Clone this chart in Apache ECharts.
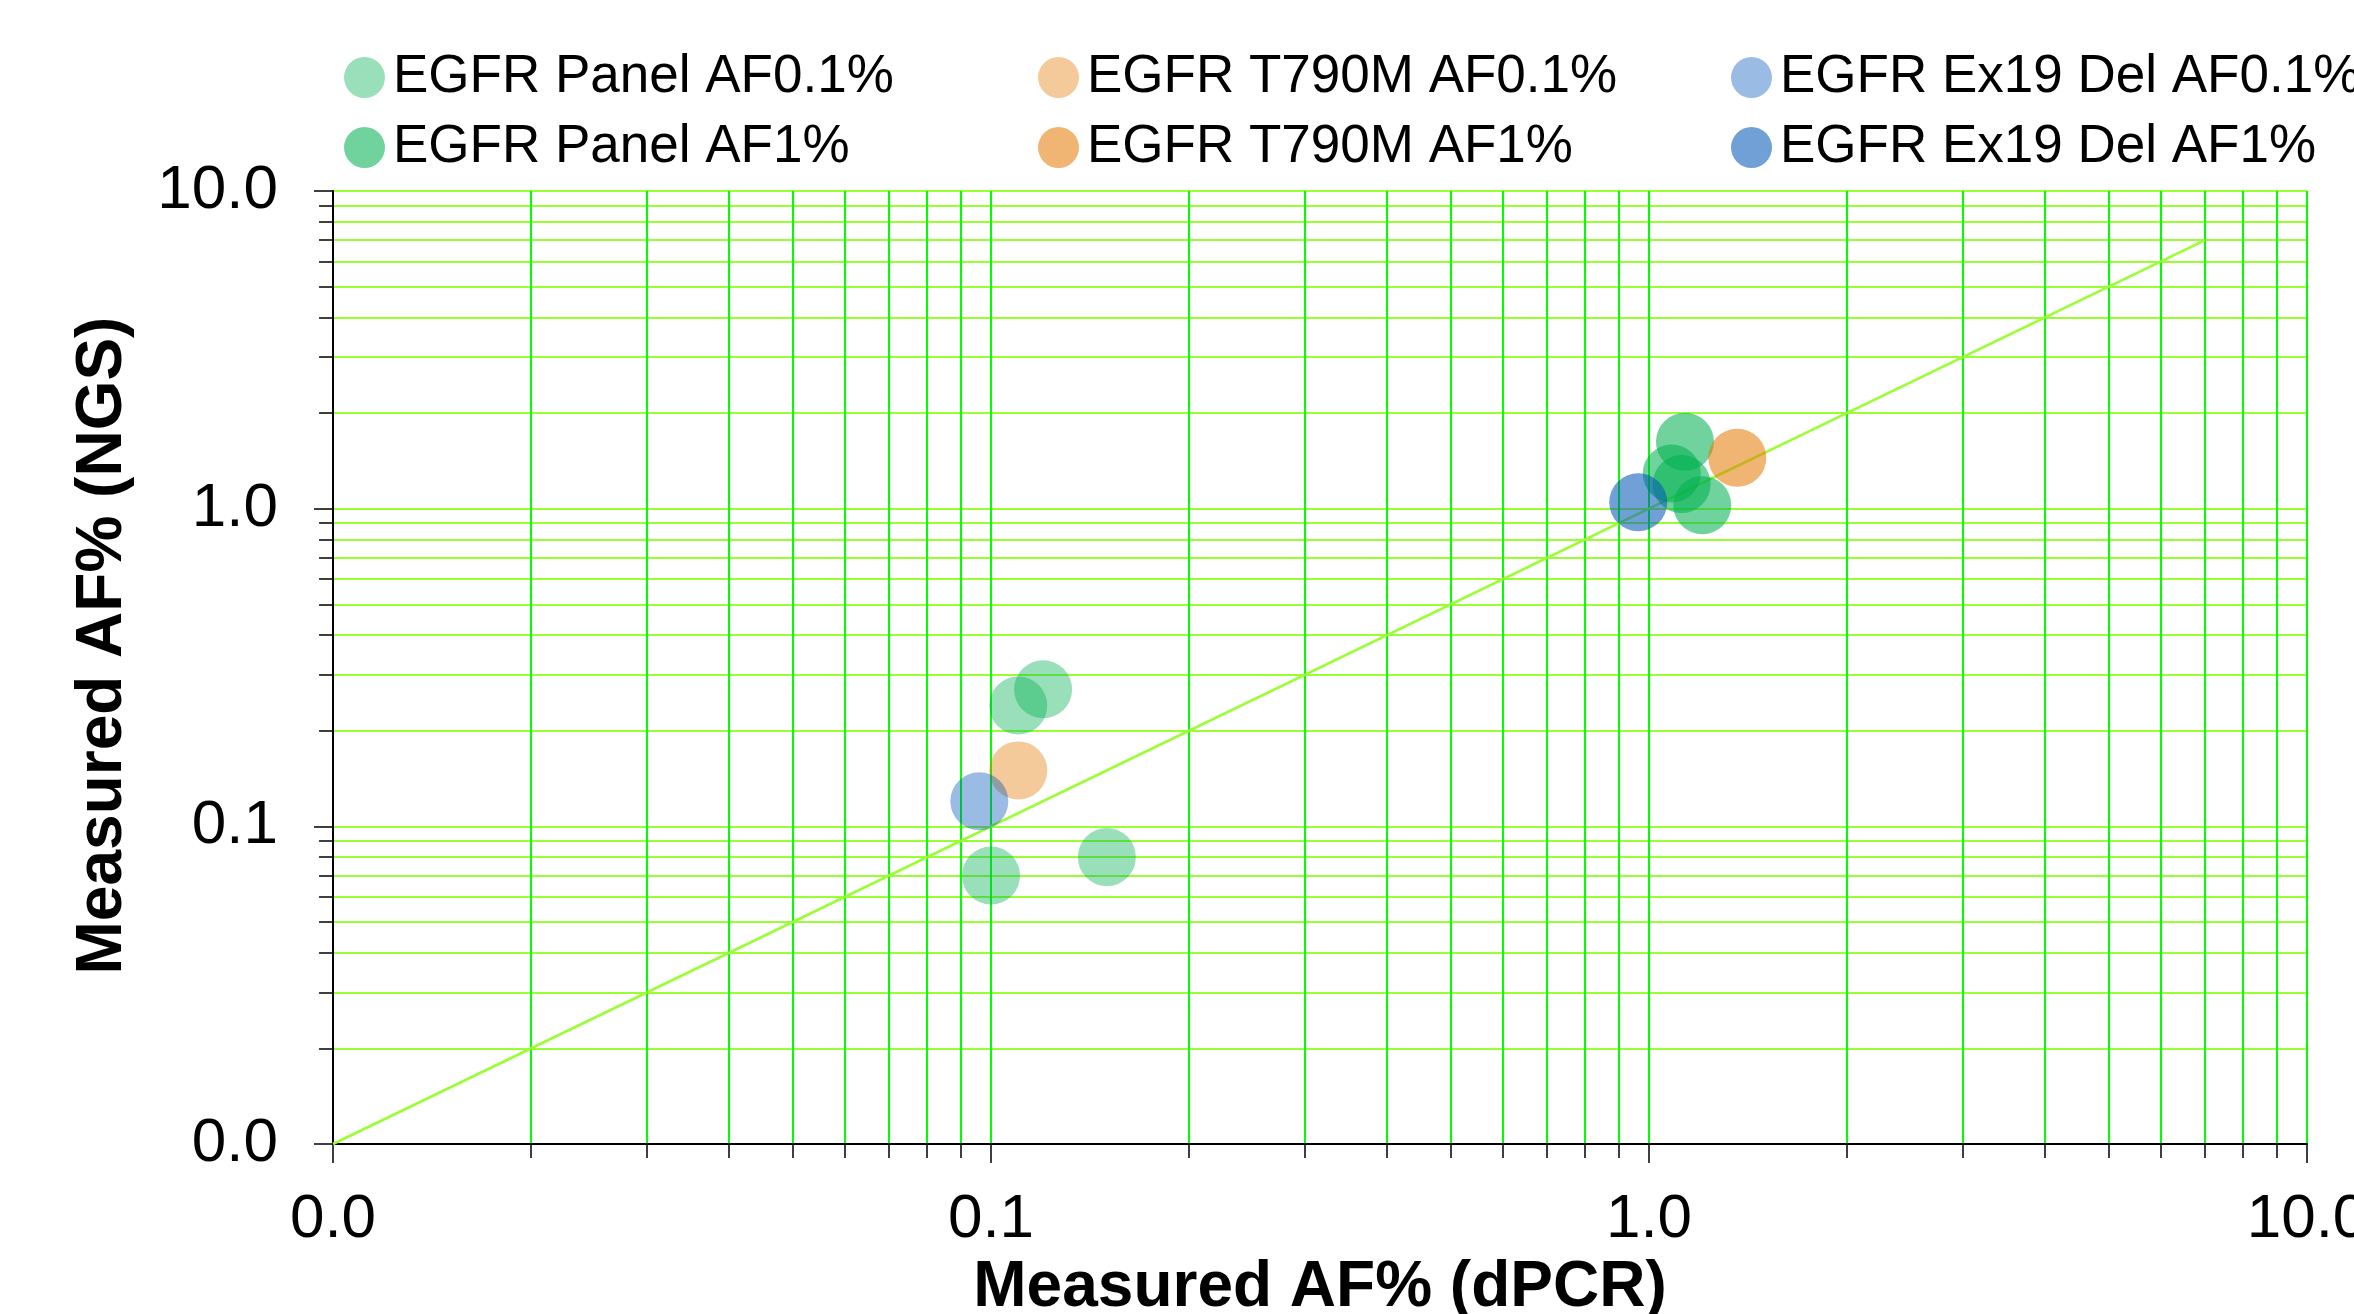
<!DOCTYPE html>
<html>
<head>
<meta charset="utf-8">
<script src="https://cdn.jsdelivr.net/npm/echarts@6/dist/echarts.min.js"></script>
<style>
  html, body { margin: 0; padding: 0; background: #fff; }
  #main { width: 2354px; height: 1314px; }
</style>
</head>
<body>
<div id="main"></div>
<script>
// data: [dPCR AF%, NGS AF%]
const panelLow = [[0.110, 0.240], [0.120, 0.270], [0.100, 0.070], [0.150, 0.080]]
const panelHigh = [[1.134, 1.624], [1.083, 1.291], [1.121, 1.195], [1.205, 1.026]]
const t790mLow = [[0.110, 0.150]]
const t790mHigh = [[1.362, 1.446]]
const ex19Low = [[0.096, 0.120]]
const ex19High = [[0.963, 1.047]]
const identityLine = [[0.01, 0.01], [7, 7]]

const font = 'Liberation Sans, Arial, sans-serif'
const myChart = echarts.init(document.getElementById('main'))

function dots(name, data, color) {
    return {
        name: name,
        type: 'scatter',
        data: data,
        symbolSize: 58,
        itemStyle: { color: color },
        z: 3
    }
}

function legendCol(left, names) {
    return {
        orient: 'vertical',
        left: left,
        top: 51,
        padding: 0,
        itemGap: 17,
        itemWidth: 41,
        itemHeight: 41,
        icon: 'circle',
        selectedMode: false,
        textStyle: { fontSize: 53, lineHeight: 53, color: '#000', fontFamily: font, padding: [0, 0, 0, 3] },
        data: names
    }
}

function axisBase(gridColor) {
    return {
        type: 'log',
        logBase: 10,
        min: 0.01,
        max: 10,
        axisLine: { show: true, lineStyle: { color: '#000', width: 2 } },
        axisTick: { show: true, length: 19, lineStyle: { color: '#000', width: 1.5 } },
        minorTick: { show: true, splitNumber: 9, length: 14, lineStyle: { color: '#000', width: 1.5 } },
        splitLine: { show: true, lineStyle: { color: gridColor, width: 2 } },
        minorSplitLine: { show: true, lineStyle: { color: gridColor, width: 2 } },
        axisLabel: {
            fontSize: 62,
            color: '#000',
            fontFamily: font,
            formatter: function (v) { return v.toFixed(1) }
        },
        nameLocation: 'middle',
        nameTextStyle: { fontSize: 64, fontWeight: 'bold', color: '#000', fontFamily: font }
    }
}

const xAxis = axisBase('#00ff00')
xAxis.name = 'Measured AF% (dPCR)'
xAxis.nameGap = 106
xAxis.axisLabel.margin = 45

const yAxis = axisBase('#99ff33')
yAxis.name = 'Measured AF% (NGS)'
yAxis.nameGap = 198
yAxis.axisLabel.margin = 55
yAxis.nameTextStyle.padding = [0, 0, 0, 44]

const option = {
    animation: false,
    backgroundColor: '#fff',
    grid: { left: 333, right: 47, top: 191, bottom: 170, containLabel: false, outerBoundsMode: 'none' },
    legend: [
        legendCol(344, ['EGFR Panel AF0.1%', 'EGFR Panel AF1%']),
        legendCol(1038, ['EGFR T790M AF0.1%', 'EGFR T790M AF1%']),
        legendCol(1731, ['EGFR Ex19 Del AF0.1%', 'EGFR Ex19 Del AF1%'])
    ],
    xAxis: xAxis,
    yAxis: yAxis,
    series: [
        {
            name: 'identity',
            type: 'line',
            data: identityLine,
            symbol: 'none',
            silent: true,
            lineStyle: { color: '#99ff33', width: 2.5 },
            z: 2
        },
        dots('EGFR Panel AF0.1%', panelLow, 'rgba(0,176,80,0.5)'),
        dots('EGFR T790M AF0.1%', t790mLow, 'rgba(228,122,6,0.5)'),
        dots('EGFR Ex19 Del AF0.1%', ex19Low, 'rgba(2,86,184,0.5)'),
        dots('EGFR Panel AF1%', panelHigh, 'rgba(0,176,80,0.7)'),
        dots('EGFR T790M AF1%', t790mHigh, 'rgba(228,122,6,0.7)'),
        dots('EGFR Ex19 Del AF1%', ex19High, 'rgba(2,86,184,0.7)')
    ]
}
myChart.setOption(option)
</script>
</body>
</html>
